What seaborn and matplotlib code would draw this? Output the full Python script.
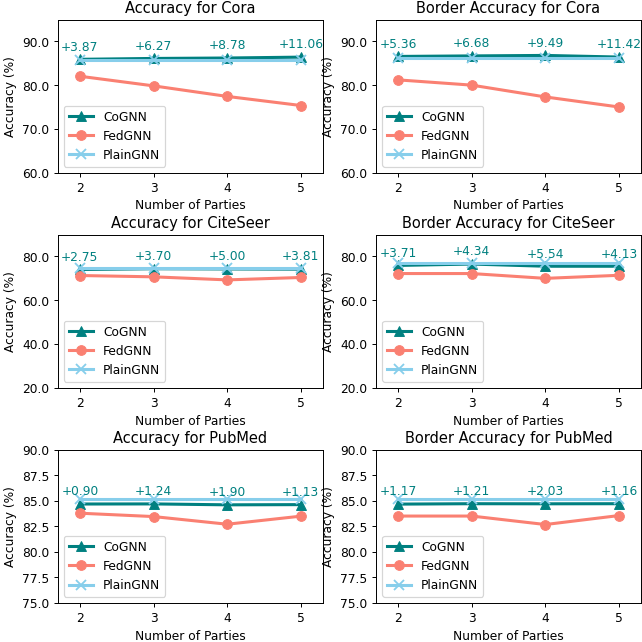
import numpy as np
import pandas as pd
import seaborn as sns
import matplotlib
matplotlib.use("Agg")
import matplotlib.pyplot as plt
from matplotlib.ticker import FormatStrFormatter

parties = [2, 3, 4, 5]

# CoGNN accuracy per panel
cognn_cora = [85.90, 86.10, 86.20, 86.40]
cognn_cora_border = [86.56, 86.68, 86.79, 86.42]
cognn_citeseer = [74.05, 74.40, 74.30, 74.21]
cognn_citeseer_border = [75.91, 76.54, 75.54, 75.53]
cognn_pubmed = [84.68, 84.69, 84.60, 84.62]
cognn_pubmed_border = [84.67, 84.71, 84.70, 84.71]

# FedGNN accuracy per panel
fedgnn_cora = [82.03, 79.83, 77.42, 75.34]
fedgnn_cora_border = [81.20, 80.00, 77.30, 75.00]
fedgnn_citeseer = [71.30, 70.70, 69.30, 70.40]
fedgnn_citeseer_border = [72.20, 72.20, 70.00, 71.40]
fedgnn_pubmed = [83.78, 83.45, 82.70, 83.49]
fedgnn_pubmed_border = [83.50, 83.50, 82.67, 83.55]

# PlainGNN accuracy per panel
plain_cora = [85.80, 85.80, 85.80, 85.80]
plain_cora_border = [86.30, 86.30, 86.30, 86.30]
plain_citeseer = [74.80, 74.80, 74.80, 74.80]
plain_citeseer_border = [76.80, 76.80, 76.80, 76.80]
plain_pubmed = [85.20, 85.20, 85.20, 85.20]
plain_pubmed_border = [85.20, 85.20, 85.20, 85.20]

# CoGNN gain over FedGNN (annotations)
gain_cora = ["+3.87", "+6.27", "+8.78", "+11.06"]
gain_cora_border = ["+5.36", "+6.68", "+9.49", "+11.42"]
gain_citeseer = ["+2.75", "+3.70", "+5.00", "+3.81"]
gain_citeseer_border = ["+3.71", "+4.34", "+5.54", "+4.13"]
gain_pubmed = ["+0.90", "+1.24", "+1.90", "+1.13"]
gain_pubmed_border = ["+1.17", "+1.21", "+2.03", "+1.16"]

panels = [
    ("Accuracy for Cora", cognn_cora, fedgnn_cora, plain_cora, gain_cora, (60, 95), [60, 70, 80, 90]),
    ("Border Accuracy for Cora", cognn_cora_border, fedgnn_cora_border, plain_cora_border, gain_cora_border, (60, 95), [60, 70, 80, 90]),
    ("Accuracy for CiteSeer", cognn_citeseer, fedgnn_citeseer, plain_citeseer, gain_citeseer, (20, 90), [20, 40, 60, 80]),
    ("Border Accuracy for CiteSeer", cognn_citeseer_border, fedgnn_citeseer_border, plain_citeseer_border, gain_citeseer_border, (20, 90), [20, 40, 60, 80]),
    ("Accuracy for PubMed", cognn_pubmed, fedgnn_pubmed, plain_pubmed, gain_pubmed, (75, 90), [75, 77.5, 80, 82.5, 85, 87.5, 90]),
    ("Border Accuracy for PubMed", cognn_pubmed_border, fedgnn_pubmed_border, plain_pubmed_border, gain_pubmed_border, (75, 90), [75, 77.5, 80, 82.5, 85, 87.5, 90]),
]

fig, axes = plt.subplots(3, 2, figsize=(7.3, 7.3), dpi=88)

for ax, (title, co, fed, plain, gain, ylim, yticks) in zip(axes.flat, panels):
    sns.lineplot(x=parties, y=co, ax=ax, color="teal", marker="^", markersize=8,
                 linewidth=2.5, markeredgecolor="teal", label="CoGNN")
    sns.lineplot(x=parties, y=fed, ax=ax, color="salmon", marker="o", markersize=8,
                 linewidth=2.5, markeredgecolor="salmon", label="FedGNN")
    sns.lineplot(x=parties, y=plain, ax=ax, color="skyblue", marker="x", markersize=8,
                 linewidth=2.5, markeredgewidth=1.5, markeredgecolor="skyblue", label="PlainGNN")
    for xi, yi, g in zip(parties, co, gain):
        ax.annotate(g, (xi, yi), xytext=(0, 5), textcoords="offset points",
                    ha="center", va="bottom", color="teal", fontsize=10)
    ax.set_title(title)
    ax.set_xlabel("Number of Parties")
    ax.set_ylabel("Accuracy (%)")
    ax.set_ylim(*ylim)
    ax.set_yticks(yticks)
    ax.set_xticks(parties)
    ax.set_xlim(1.7, 5.3)
    ax.yaxis.set_major_formatter(FormatStrFormatter("%.1f"))
    ax.legend(loc="lower left")

plt.subplots_adjust(left=0.090, right=0.998, top=0.969, bottom=0.061,
                    wspace=0.2, hspace=0.405)
plt.savefig("out.png")
